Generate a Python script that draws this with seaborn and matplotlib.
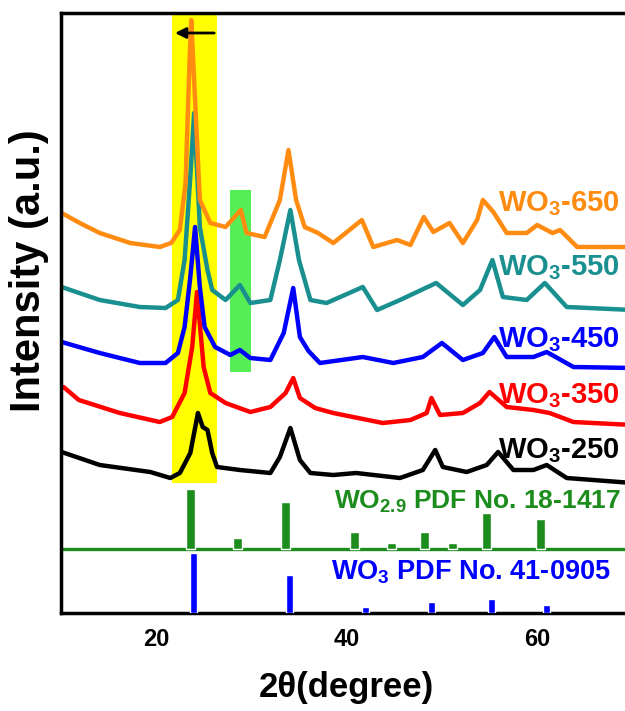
import matplotlib
matplotlib.use("Agg")
import matplotlib.pyplot as plt
import seaborn as sns

# XRD traces (2theta in degree, intensity in a.u. with offsets)
x_250 = [10.1, 14.1, 19.4, 21.5, 22.5, 23.6, 24.4, 24.9, 25.4, 25.9, 26.4, 28.8, 32.0, 33.0, 34.1, 35.1, 36.2,
         38.6, 41.0, 45.6, 48.0, 49.3, 50.1, 52.6, 54.7, 55.9, 57.5, 59.6, 61.0, 63.1, 70.0]
y_250 = [161, 148, 141, 135, 140, 160, 200, 186, 183, 160, 146, 143, 140, 156, 185, 153, 140,
         138, 140, 135, 143, 163, 146, 141, 148, 161, 143, 143, 148, 135, 130]

x_350 = [10.3, 11.9, 16.2, 20.4, 21.7, 23.0, 23.8, 24.3, 25.0, 25.7, 27.3, 29.9, 32.0, 33.6, 34.4, 35.1, 36.7,
         38.6, 43.8, 46.7, 48.4, 48.9, 49.8, 52.2, 54.0, 55.0, 56.8, 59.6, 61.3, 63.8, 70.0]
y_350 = [226, 213, 200, 191, 196, 220, 266, 321, 246, 220, 210, 201, 206, 220, 235, 215, 205,
         200, 190, 193, 200, 215, 198, 200, 210, 221, 206, 203, 200, 191, 188]

x_450 = [10.1, 14.1, 18.3, 21.0, 22.3, 23.0, 23.6, 24.1, 24.6, 25.1, 26.2, 27.8, 28.8, 29.9, 32.0, 33.4, 34.4,
         35.1, 36.0, 37.2, 41.7, 44.9, 48.0, 50.0, 52.2, 54.3, 55.5, 56.8, 59.6, 61.0, 63.8, 70.0]
y_450 = [271, 260, 250, 250, 260, 286, 336, 386, 326, 286, 266, 258, 263, 255, 253, 280, 325,
         276, 262, 250, 256, 250, 256, 270, 253, 260, 276, 256, 256, 261, 246, 245]

x_550 = [10.1, 14.1, 18.3, 21.0, 22.3, 23.0, 23.6, 24.0, 24.6, 25.4, 25.9, 27.3, 28.8, 29.9, 32.0, 33.0, 34.1,
         35.0, 36.2, 37.9, 41.7, 43.2, 45.6, 49.4, 52.2, 54.0, 55.3, 56.4, 58.9, 60.8, 63.1, 70.0]
y_550 = [326, 313, 306, 305, 313, 353, 436, 500, 386, 343, 323, 313, 328, 310, 313, 353, 403,
         353, 313, 310, 326, 303, 313, 330, 308, 323, 353, 316, 313, 330, 306, 303]

x_650 = [10.1, 12.0, 14.1, 17.3, 20.4, 21.6, 22.5, 23.1, 23.5, 23.7, 24.1, 24.6, 25.7, 27.3, 28.9, 29.5, 31.4,
         33.0, 33.9, 34.7, 35.6, 37.0, 38.6, 41.6, 42.8, 45.3, 46.7, 48.1, 49.1, 50.8, 52.2, 53.7, 54.3,
         55.4, 56.8, 58.9, 60.0, 61.6, 62.4, 64.2, 70.0]
y_650 = [400, 390, 380, 370, 366, 370, 383, 430, 546, 593, 513, 413, 390, 386, 403, 380, 376,
         413, 463, 413, 386, 380, 370, 393, 366, 373, 368, 396, 381, 390, 370, 393, 413,
         401, 380, 380, 388, 380, 383, 366, 366]

samples = ["WO$_3$-250", "WO$_3$-350", "WO$_3$-450", "WO$_3$-550", "WO$_3$-650"]
sample_x = [x_250, x_350, x_450, x_550, x_650]
sample_y = [y_250, y_350, y_450, y_550, y_650]
sample_colors = ["black", "#ff0000", "#0000ff", "#1a8f8f", "#ff8c10"]
label_y = [155, 210, 266, 338, 402]

# standard patterns
wo29_pos = [23.6, 28.6, 33.6, 40.8, 44.7, 48.2, 51.1, 54.7, 60.3]
wo29_int = [60, 11, 47, 17, 6, 17, 6, 36, 30]
wo3_pos = [23.9, 34.0, 42.0, 48.9, 55.2, 61.0]
wo3_int = [60, 38, 6, 11, 14, 8]
wo29_base = 64

sns.set_style("white")
plt.rcParams["font.family"] = ["Liberation Sans", "DejaVu Sans"]
plt.rcParams["font.weight"] = "bold"
plt.rcParams["mathtext.fontset"] = "custom"
plt.rcParams["mathtext.rm"] = "Liberation Sans:bold"
plt.rcParams["mathtext.it"] = "Liberation Sans:bold"
plt.rcParams["mathtext.bf"] = "Liberation Sans:bold"

fig = plt.figure(figsize=(6.25, 7.11), dpi=100)
ax = fig.add_axes([60.7 / 625, 98 / 711, 571.8 / 625, 600 / 711])

# highlighted regions
ax.axvspan(21.7, 26.4, ymin=130 / 600, ymax=598 / 600, color="#ffff00", lw=0, zorder=0)
ax.axvspan(27.8, 30.0, ymin=241 / 600, ymax=423 / 600, color="#55ef55", lw=0, zorder=0)

for name, xs, ys, c, ly in zip(samples, sample_x, sample_y, sample_colors, label_y):
    sns.lineplot(x=xs, y=ys, color=c, lw=3.2, sort=False, estimator=None, ax=ax)
    ax.text(68.7, ly, name, color=c, fontsize=21, fontweight="bold", ha="right", va="baseline")

ax.axhline(wo29_base, color="#1c8c1c", lw=2.4, clip_on=False)
ax.bar(wo29_pos, wo29_int, bottom=wo29_base, width=0.95, color="#1c8c1c", zorder=3)
ax.bar(wo3_pos, wo3_int, width=0.75, color="#0000ff", zorder=3)
ax.text(68.8, 104, "WO$_{2.9}$ PDF No. 18-1417", color="#1c8c1c", fontsize=19,
        fontweight="bold", ha="right", va="baseline")
ax.text(67.7, 33, "WO$_3$ PDF No. 41-0905", color="#0000ff", fontsize=19.5,
        fontweight="bold", ha="right", va="baseline")

ax.annotate("", xy=(21.7, 580), xytext=(26.4, 580),
            arrowprops=dict(arrowstyle="-|>", color="black", lw=2, mutation_scale=16))

ax.set_xlim(10, 70)
ax.set_ylim(0, 600)
ax.set_xticks([20, 40, 60], labels=["20", "40", "60"], fontsize=17, fontweight="bold", color="black")
ax.set_xticks([10, 30, 50, 70], minor=True)
ax.set_yticks([])
ax.tick_params(axis="x", which="major", direction="out", length=6, width=2.2, pad=5,
               color="black", labelcolor="black")
ax.tick_params(axis="x", which="minor", direction="out", length=4, width=2.2, color="black")
for sp in ax.spines.values():
    sp.set_linewidth(2.5)
    sp.set_color("black")

ax.set_xlabel("2θ(degree)", fontsize=25, fontweight="bold", labelpad=14, color="black")
ax.set_ylabel("Intensity (a.u.)", fontsize=30, fontweight="bold", color="black")
ax.yaxis.set_label_coords(-0.02, 0.57)

fig.savefig("out.png", dpi=100)
